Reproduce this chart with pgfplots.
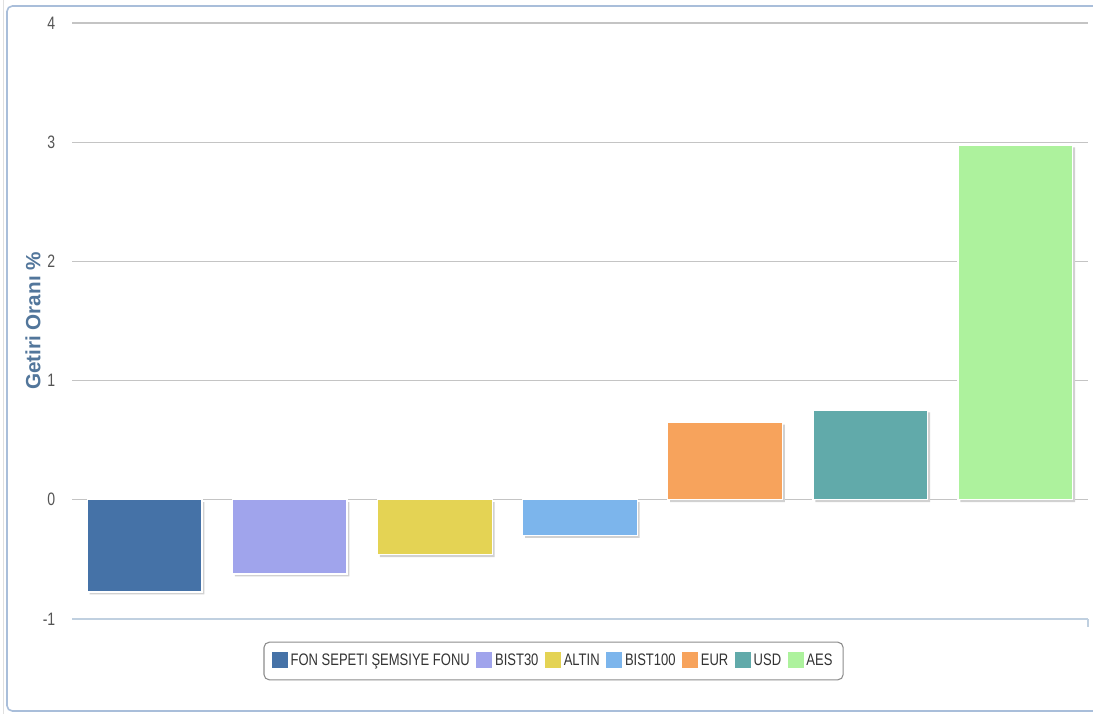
\documentclass[border=0pt]{standalone}
\usepackage{pgfplots}
\pgfplotsset{compat=1.18}
\usepackage{fontspec}
\setmainfont{Liberation Sans}
\newfontfamily\condfont[FakeStretch=0.78]{Liberation Sans}
\definecolor{cFON}{HTML}{4572A7}
\definecolor{cB30}{HTML}{A0A4EC}
\definecolor{cALT}{HTML}{E4D354}
\definecolor{cB100}{HTML}{7CB5EC}
\definecolor{cEUR}{HTML}{F7A35C}
\definecolor{cUSD}{HTML}{61AAAA}
\definecolor{cAES}{HTML}{ADF29D}
\definecolor{frame}{HTML}{A9BEDA}
\definecolor{axisline}{HTML}{C0D0E0}
\definecolor{gridc}{HTML}{C4C4C4}
\definecolor{ylab}{HTML}{4D759E}
\definecolor{ticklab}{HTML}{555555}
\pgfplotstableread{
x y
0 -0.774
1 -0.623
2 -0.461
3 -0.299
4 0.651
5 0.754
6 2.976
}\shadowdata
\begin{document}
\begin{tikzpicture}[x=0.75pt,y=0.75pt]
\path[use as bounding box] (0,0) rectangle (1093,714);
\fill[white] (0,0) rectangle (1093,714);
\draw[black!12, line width=0.75pt] (3,0) -- (3,714);
\draw[frame, line width=1.2pt, rounded corners=4pt] (7,3) rectangle (1100,708);
\begin{axis}[
  at={(54pt,71.25pt)}, anchor=south west,
  scale only axis, width=762pt, height=447pt,
  xmin=-0.5, xmax=6.5, ymin=-1, ymax=4,
  ytick={-1,0,1,2,3,4},
  ymajorgrids, grid style={gridc, line width=0.9pt},
  xtick={6.5}, xticklabels={},
  x tick style={axisline, line width=1pt}, major tick length=6pt,
  tick align=outside,
  y tick style={draw=none},
  axis x line*=bottom, axis y line*=left,
  x axis line style={axisline, line width=1.2pt, -},
  y axis line style={draw=none},
  yticklabel style={font=\condfont\fontsize{13.5}{15}\selectfont, text=ticklab, xshift=-3pt},
  /pgf/number format/assume math mode=true,
  ylabel={\bfseries Getiri Oranı \%},
  ylabel style={font=\fontsize{15.5}{17}\selectfont, text=ylab!90!gray, at={(axis description cs:-0.0384,0.5)}, anchor=center},
  ybar, bar shift=0pt, bar width=0.79,
  legend columns=-1,
  legend style={at={(axis description cs:0.474,-0.0705)}, anchor=center,
    draw=black!45, line width=0.8pt, rounded corners=4pt,
    font=\condfont\fontsize{12.5}{14}\selectfont, text=black!80,
    inner xsep=6pt, inner ysep=7pt,
    /tikz/every even column/.append style={column sep=3pt},
    nodes={inner sep=2pt}},
  legend image code/.code={\fill[#1, draw=none, sharp corners] (0pt,-5.5pt) rectangle (12pt,6.5pt);},
]
\addplot[fill=black!18, draw=none, forget plot, bar shift=1.8pt, transform canvas={yshift=-1.8pt}] table[x=x,y=y] {\shadowdata};
\addplot[fill=cFON, draw=white, line width=1pt] coordinates {(0,-0.774)};
\addlegendentry{FON SEPETI ŞEMSIYE FONU}
\addplot[fill=cB30, draw=white, line width=1pt] coordinates {(1,-0.623)};
\addlegendentry{BIST30}
\addplot[fill=cALT, draw=white, line width=1pt] coordinates {(2,-0.461)};
\addlegendentry{ALTIN}
\addplot[fill=cB100, draw=white, line width=1pt] coordinates {(3,-0.299)};
\addlegendentry{BIST100}
\addplot[fill=cEUR, draw=white, line width=1pt] coordinates {(4,0.651)};
\addlegendentry{EUR}
\addplot[fill=cUSD, draw=white, line width=1pt] coordinates {(5,0.754)};
\addlegendentry{USD}
\addplot[fill=cAES, draw=white, line width=1pt] coordinates {(6,2.976)};
\addlegendentry{AES}
\end{axis}
\end{tikzpicture}
\end{document}
